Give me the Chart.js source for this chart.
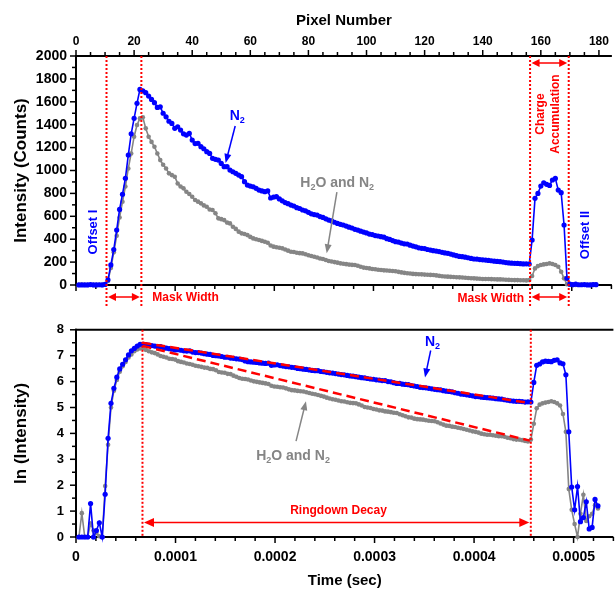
<!DOCTYPE html>
<html><head><meta charset="utf-8">
<script src="https://cdn.jsdelivr.net/npm/chart.js@4"></script>
<style>
html,body{margin:0;padding:0;background:#fff;}
#wrap{position:relative;width:616px;height:592px;overflow:hidden;}
canvas{position:absolute;left:0;}
#c1{top:0;} #c2{top:310px;}
</style></head><body>
<div id="wrap"><canvas id="c1" width="616" height="310"></canvas><canvas id="c2" width="616" height="282"></canvas></div>
<script>
// ---------------- data ----------------
// Top panel: intensity (counts) per pixel number 1..179
const N2_COUNTS = [
1,1,1,1,4,1,1,2,1,5,
45,175,310,480,660,792,932,1135,1320,1456,
1587,1708,1696,1680,1650,1621,1592,1551,1556,1500,
1469,1430,1411,1368,1382,1353,1320,1309,1324,1266,
1235,1237,1208,1190,1164,1149,1106,1098,1091,1062,
1033,1033,1004,989,975,960,946,902,873,864,
858,844,829,822,815,822,760,768,771,752,
735,720,710,698,690,675,668,655,648,635,
622,615,611,598,590,578,567,560,548,538,
530,524,515,505,498,486,480,470,462,455,
445,440,432,428,422,418,405,398,388,378,
375,366,360,358,348,340,333,325,320,318,
310,305,300,296,292,285,280,277,270,263,
256,250,247,243,238,232,227,226,222,220,
218,215,212,208,206,204,200,196,193,191,
189,188,186,184,185,183,393,757,800,864,
893,879,870,917,931,829,806,524,58,7,
3,7,2,2,4,1,1,4,3];
const H2O_N2_COUNTS = [
1,3,1,1,2,1,1,1,1,7,
35,148,285,430,590,727,860,1018,1149,1295,
1397,1455,1464,1368,1295,1250,1207,1149,1091,1050,
1018,975,960,946,887,860,844,815,795,771,
742,728,713,695,684,660,655,626,582,575,
567,545,538,509,490,466,451,445,436,420,
407,400,393,385,378,369,345,335,330,325,
320,310,300,291,288,282,278,276,268,260,
253,247,240,232,227,218,210,205,200,195,
189,186,182,178,176,175,168,160,152,148,
145,140,137,133,131,128,126,124,122,120,
115,110,106,102,100,97,95,94,93,91,
89,88,87,84,80,77,74,73,71,70,
68,67,65,63,61,59,58,56,54,53,
52,52,51,50,49,49,48,46,45,44,
43,43,42,41,40,43,79,145,165,175,
180,183,189,183,175,160,116,58,6,3,
2,1,2,5,2,2,2,3,3];
// Bottom panel: ln(intensity) per pixel number 1..179
const N2_LN = [
0,0,0,0,1.29,0,0.25,0.55,0,1.65,
3.81,5.16,5.74,6.17,6.49,6.67,6.84,7.03,7.19,7.28,
7.37,7.44,7.44,7.43,7.41,7.39,7.37,7.35,7.35,7.31,
7.29,7.27,7.25,7.22,7.23,7.21,7.19,7.18,7.19,7.14,
7.12,7.12,7.10,7.08,7.06,7.05,7.01,7.00,6.99,6.97,
6.94,6.94,6.91,6.90,6.88,6.87,6.85,6.80,6.77,6.76,
6.75,6.74,6.72,6.71,6.70,6.71,6.63,6.64,6.65,6.62,
6.60,6.58,6.57,6.55,6.54,6.51,6.50,6.48,6.47,6.45,
6.43,6.42,6.42,6.39,6.38,6.36,6.34,6.33,6.31,6.29,
6.27,6.26,6.24,6.22,6.21,6.19,6.17,6.15,6.14,6.12,
6.10,6.09,6.07,6.06,6.04,6.04,6.00,5.99,5.96,5.93,
5.93,5.90,5.89,5.88,5.85,5.83,5.81,5.78,5.77,5.76,
5.74,5.72,5.70,5.69,5.68,5.65,5.63,5.62,5.60,5.57,
5.55,5.52,5.51,5.49,5.47,5.45,5.42,5.42,5.40,5.39,
5.38,5.37,5.36,5.34,5.33,5.32,5.30,5.28,5.26,5.25,
5.24,5.24,5.23,5.21,5.22,5.21,5.97,6.63,6.68,6.76,
6.79,6.78,6.77,6.82,6.84,6.72,6.69,6.26,4.06,1.93,
1.05,1.95,0.59,0.75,1.36,0.31,0.37,1.45,1.20];
const H2O_N2_LN = [
0,0.92,0,0,0.52,0.25,0.15,0.03,0,1.97,
3.56,5.00,5.65,6.06,6.38,6.59,6.76,6.93,7.05,7.17,
7.24,7.28,7.29,7.22,7.17,7.13,7.10,7.05,6.99,6.96,
6.93,6.88,6.87,6.85,6.79,6.76,6.74,6.70,6.68,6.65,
6.61,6.59,6.57,6.54,6.53,6.49,6.48,6.44,6.37,6.35,
6.34,6.30,6.29,6.23,6.19,6.14,6.11,6.10,6.08,6.04,
6.01,5.99,5.97,5.95,5.93,5.91,5.84,5.81,5.80,5.78,
5.77,5.74,5.70,5.67,5.66,5.64,5.63,5.62,5.59,5.56,
5.53,5.51,5.48,5.45,5.42,5.38,5.35,5.32,5.30,5.27,
5.24,5.23,5.20,5.18,5.17,5.16,5.12,5.08,5.02,5.00,
4.98,4.94,4.92,4.89,4.88,4.85,4.84,4.82,4.80,4.79,
4.74,4.70,4.66,4.62,4.61,4.57,4.55,4.54,4.53,4.51,
4.49,4.48,4.47,4.43,4.38,4.34,4.30,4.29,4.26,4.25,
4.22,4.20,4.17,4.14,4.11,4.08,4.06,4.03,3.99,3.97,
3.95,3.95,3.93,3.91,3.89,3.89,3.87,3.83,3.81,3.78,
3.76,3.76,3.74,3.71,3.69,3.76,4.37,4.97,5.11,5.16,
5.19,5.21,5.24,5.21,5.16,5.08,4.75,4.06,1.85,1.05,
0.50,0,0.90,1.63,0.62,0.80,0.90,1.23,1.10];
// Red dashed straight-line fits of the ringdown decay (bottom panel)
const FIT_TIME_SEC = [0.0000668, 0.000456];
const FIT_N2_LN = [7.50, 5.17];
const FIT_H2O_N2_LN = [7.38, 3.72];
// Axis settings
const SEC_PER_PIXEL = 2.93e-6;
const PIXEL_AXIS = {min: 0, max: 184.46, step: 20, minor: 5};
const COUNT_AXIS = {min: 0, max: 2000, step: 200, minor: 100};
const TIME_AXIS = {min: 0, max: 0.00054, step: 0.0001, minor: 0.00002};
const LN_AXIS = {min: 0, max: 8, step: 1, minor: 0.5};
// Annotation anchors (in the charts' own units)
const MASK_I_PIXELS = [10.5, 22.5];
const MASK_II_PIXELS = [156.3, 169.6];
const RINGDOWN_SEC = [0.0000668, 0.000457];

// ---------------- build ----------------
const PIXEL_NUMBERS = N2_COUNTS.map((_, i) => i + 1);
const TIME_SEC = PIXEL_NUMBERS.map(p => p * SEC_PER_PIXEL);
const BLUE = '#0000FF', GRAY = '#858585', RED = '#FF0000';
const FONT = "'Liberation Sans', Arial, Helvetica, sans-serif";
const pts = (xs, ys) => xs.map((x, i) => ({x, y: ys[i]}));

function seriesStyle(color, r) {
  return {borderColor: color, backgroundColor: color, pointBackgroundColor: color,
    borderWidth: 1.6, pointRadius: r, pointBorderWidth: 0, pointHoverRadius: r,
    tension: 0, clip: false, fill: false};
}
function fitStyle() {
  return {borderColor: RED, borderWidth: 2.5, borderDash: [9, 5], pointRadius: 0,
    tension: 0, clip: false, fill: false};
}

function seg(ctx, x1, y1, x2, y2) { ctx.beginPath(); ctx.moveTo(x1, y1); ctx.lineTo(x2, y2); ctx.stroke(); }
function head(ctx, x1, y1, x2, y2, len, w) {
  const a = Math.atan2(y2 - y1, x2 - x1), c = Math.cos(a), s = Math.sin(a);
  ctx.beginPath(); ctx.moveTo(x2, y2);
  ctx.lineTo(x2 - len * c + w / 2 * s, y2 - len * s - w / 2 * c);
  ctx.lineTo(x2 - len * c - w / 2 * s, y2 - len * s + w / 2 * c);
  ctx.closePath(); ctx.fill();
}
function arrow(ctx, x1, y1, x2, y2, color, lw, len, w, both) {
  ctx.save(); ctx.strokeStyle = color; ctx.fillStyle = color; ctx.lineWidth = lw; ctx.setLineDash([]);
  const a = Math.atan2(y2 - y1, x2 - x1), c = Math.cos(a), s = Math.sin(a);
  seg(ctx, both ? x1 + c * len * 0.8 : x1, both ? y1 + s * len * 0.8 : y1, x2 - c * len * 0.8, y2 - s * len * 0.8);
  head(ctx, x1, y1, x2, y2, len, w);
  if (both) head(ctx, x2, y2, x1, y1, len, w);
  ctx.restore();
}
function rich(ctx, parts, x, y, color, size, sub) {
  ctx.save(); ctx.fillStyle = color; ctx.textAlign = 'left'; ctx.textBaseline = 'alphabetic';
  let cx = x;
  for (const [t, isSub] of parts) {
    ctx.font = 'bold ' + (isSub ? sub : size) + 'px ' + FONT;
    ctx.fillText(t, cx, isSub ? y + 3 : y);
    cx += ctx.measureText(t).width;
  }
  ctx.restore();
}
function vtext(ctx, text, x, y, color, size) {
  ctx.save(); ctx.translate(x, y); ctx.rotate(-Math.PI / 2);
  ctx.fillStyle = color; ctx.font = 'bold ' + size + 'px ' + FONT;
  ctx.textAlign = 'center'; ctx.textBaseline = 'middle'; ctx.fillText(text, 0, 0); ctx.restore();
}
function text(ctx, t, x, y, color, size, align) {
  ctx.save(); ctx.fillStyle = color; ctx.font = 'bold ' + size + 'px ' + FONT;
  ctx.textAlign = align; ctx.textBaseline = 'middle'; ctx.fillText(t, x, y); ctx.restore();
}
function dotted(ctx, x, y1, y2) {
  ctx.save(); ctx.strokeStyle = RED; ctx.lineWidth = 2; ctx.setLineDash([2, 2]);
  seg(ctx, x, y1, x, y2); ctx.restore();
}
function steps(ax, step) { const out = []; const n = Math.floor((ax.max - ax.min) / step + 1e-9); for (let i = 0; i <= n; i++) out.push(ax.min + i * step); return out; }
function isMajor(v, step) { const r = v / step; return Math.abs(r - Math.round(r)) < 1e-6; }

const tickFont = (s) => ({family: FONT, size: s, weight: 'bold'});
const plainNum = v => String(Math.round(v));

// ---------------- top chart ----------------
const topDecor = {
  id: 'topDecor',
  beforeDatasetsDraw(chart) {
    const {ctx, chartArea: a, scales: {x, y}} = chart;
    ctx.save(); ctx.strokeStyle = '#000'; ctx.lineWidth = 2;
    seg(ctx, a.left, a.top - 1, a.left, a.bottom + 1);
    seg(ctx, a.left - 1, a.top, a.right, a.top);
    seg(ctx, a.left - 1, a.bottom, a.right, a.bottom);
    ctx.lineWidth = 1.5;
    steps(COUNT_AXIS, COUNT_AXIS.minor).forEach(v => { const py = y.getPixelForValue(v); seg(ctx, a.left - (isMajor(v, COUNT_AXIS.step) ? 6 : 4), py, a.left, py); });
    steps({min: 0, max: PIXEL_AXIS.max}, PIXEL_AXIS.minor).forEach(v => { const px = x.getPixelForValue(v); seg(ctx, px, a.top - (isMajor(v, PIXEL_AXIS.step) ? 6 : 4), px, a.top); });
    steps(TIME_AXIS, TIME_AXIS.minor).forEach(t => { const px = x.getPixelForValue(t / SEC_PER_PIXEL); if (px <= a.right) seg(ctx, px, a.bottom, px, a.bottom + (isMajor(t, TIME_AXIS.step) ? 6 : 4)); });
    ctx.restore();
  },
  afterDatasetsDraw(chart) {
    const {ctx, chartArea: a, scales: {x, y}} = chart;
    const X = v => x.getPixelForValue(v), Y = v => y.getPixelForValue(v);
    const lowY = a.bottom + 21;
    [...MASK_I_PIXELS, ...MASK_II_PIXELS].forEach(p => dotted(ctx, X(p), a.top, lowY));
    const ay = a.bottom + 12;
    arrow(ctx, X(MASK_I_PIXELS[0]) + 1.5, ay, X(MASK_I_PIXELS[1]) - 1.5, ay, RED, 1.5, 8, 8, true);
    arrow(ctx, X(MASK_II_PIXELS[0]) + 1.5, ay, X(MASK_II_PIXELS[1]) - 1.5, ay, RED, 1.5, 8, 8, true);
    arrow(ctx, X(MASK_II_PIXELS[0]) + 1.5, a.top + 7, X(MASK_II_PIXELS[1]) - 1.5, a.top + 7, RED, 1.5, 8, 8, true);
    text(ctx, 'Mask Width', X(MASK_I_PIXELS[1]) + 11, ay + 1, RED, 12, 'left');
    text(ctx, 'Mask Width', X(MASK_II_PIXELS[0]) - 6, ay + 2, RED, 12, 'right');
    vtext(ctx, 'Charge', X(159.9), Y(1493), RED, 12);
    vtext(ctx, 'Accumulation', X(165.1), Y(1493), RED, 12);
    vtext(ctx, 'Offset I', X(5.9), Y(463), BLUE, 13);
    vtext(ctx, 'Offset II', X(175.3), Y(437), BLUE, 13);
    rich(ctx, [['N', false], ['2', true]], X(52.9), Y(1441), BLUE, 14, 9);
    arrow(ctx, X(54.8), Y(1389), X(51.5), Y(1066), BLUE, 1.5, 9, 7, false);
    rich(ctx, [['H', false], ['2', true], ['O and N', false], ['2', true]], X(77.2), Y(859), GRAY, 14, 9);
    arrow(ctx, X(89.8), Y(812), X(86.3), Y(277), GRAY, 1.5, 9, 7, false);
  }
};

new Chart(document.getElementById('c1'), {
  type: 'line',
  data: {datasets: [
    Object.assign({label: 'N2', data: pts(PIXEL_NUMBERS, N2_COUNTS)}, seriesStyle(BLUE, 2.6)),
    Object.assign({label: 'H2O and N2', data: pts(PIXEL_NUMBERS, H2O_N2_COUNTS)}, seriesStyle(GRAY, 2.3))
  ]},
  options: {
    responsive: false, animation: false, events: [],
    layout: {padding: {left: 0, right: 1, top: 0, bottom: 25}},
    plugins: {legend: {display: false}, tooltip: {enabled: false}},
    scales: {
      x: {type: 'linear', position: 'top', min: PIXEL_AXIS.min, max: PIXEL_AXIS.max,
        grid: {display: false, drawTicks: false}, border: {display: false},
        ticks: {stepSize: PIXEL_AXIS.step, includeBounds: false, autoSkip: false, maxRotation: 0, padding: 7, color: '#000', font: tickFont(12), callback: plainNum},
        title: {display: true, text: 'Pixel Number', color: '#000', font: tickFont(15), padding: {top: 12, bottom: 0}},
        afterFit(s) { s.height = 56; }},
      y: {type: 'linear', min: COUNT_AXIS.min, max: COUNT_AXIS.max,
        grid: {display: false, drawTicks: false}, border: {display: false},
        ticks: {stepSize: COUNT_AXIS.step, autoSkip: false, padding: 9, color: '#000', font: tickFont(14), callback: plainNum},
        title: {display: true, text: 'Intensity (Counts)', color: '#000', font: tickFont(17), padding: {top: 11, bottom: 0}},
        afterFit(s) { s.width = 76; }}
    }
  },
  plugins: [topDecor]
});

// ---------------- bottom chart ----------------
const bottomDecor = {
  id: 'bottomDecor',
  beforeDatasetsDraw(chart) {
    const {ctx, chartArea: a, scales: {x, y}} = chart;
    ctx.save(); ctx.strokeStyle = '#000'; ctx.lineWidth = 2;
    seg(ctx, a.left, a.top - 1, a.left, a.bottom + 1);
    seg(ctx, a.left - 1, a.bottom, a.right, a.bottom);
    seg(ctx, a.left - 1, a.top, a.right, a.top);
    ctx.lineWidth = 1.5;
    steps(LN_AXIS, LN_AXIS.minor).forEach(v => { const py = y.getPixelForValue(v); seg(ctx, a.left - (isMajor(v, LN_AXIS.step) ? 6 : 4), py, a.left, py); });
    steps(TIME_AXIS, TIME_AXIS.minor).forEach(t => { const px = x.getPixelForValue(t); seg(ctx, px, a.bottom, px, a.bottom + (isMajor(t, TIME_AXIS.step) ? 6 : 4)); });
    ctx.restore();
  },
  afterDatasetsDraw(chart) {
    const {ctx, chartArea: a, scales: {x, y}} = chart;
    const X = v => x.getPixelForValue(v), Y = v => y.getPixelForValue(v);
    RINGDOWN_SEC.forEach(t => dotted(ctx, X(t), a.top, a.bottom));
    arrow(ctx, X(RINGDOWN_SEC[0]) + 1.5, Y(0.56), X(RINGDOWN_SEC[1]) - 1.5, Y(0.56), RED, 1.5, 10, 9, true);
    text(ctx, 'Ringdown Decay', X(0.0002638), Y(1.03), RED, 12, 'center');
    rich(ctx, [['N', false], ['2', true]], X(0.0003507), Y(7.38), BLUE, 14, 9);
    arrow(ctx, X(0.0003564), Y(7.2), X(0.0003507), Y(6.16), BLUE, 1.5, 9, 7, false);
    rich(ctx, [['H', false], ['2', true], ['O and N', false], ['2', true]], X(0.000181), Y(2.99), GRAY, 14, 9);
    arrow(ctx, X(0.0002211), Y(3.70), X(0.0002311), Y(5.24), GRAY, 1.5, 9, 7, false);
  }
};

new Chart(document.getElementById('c2'), {
  type: 'line',
  data: {datasets: [
    Object.assign({label: 'N2 fit', data: pts(FIT_TIME_SEC, FIT_N2_LN)}, fitStyle()),
    Object.assign({label: 'H2O and N2 fit', data: pts(FIT_TIME_SEC, FIT_H2O_N2_LN)}, fitStyle()),
    Object.assign({label: 'N2', data: pts(TIME_SEC, N2_LN)}, seriesStyle(BLUE, 2.6)),
    Object.assign({label: 'H2O and N2', data: pts(TIME_SEC, H2O_N2_LN)}, seriesStyle(GRAY, 2.3))
  ]},
  options: {
    responsive: false, animation: false, events: [],
    layout: {padding: {left: 0, right: 1, top: 10, bottom: 0}},
    plugins: {legend: {display: false}, tooltip: {enabled: false}},
    scales: {
      x: {type: 'linear', position: 'bottom', min: TIME_AXIS.min, max: TIME_AXIS.max,
        grid: {display: false, drawTicks: false}, border: {display: false},
        ticks: {stepSize: TIME_AXIS.step, includeBounds: false, autoSkip: false, maxRotation: 0, padding: 12, color: '#000', font: tickFont(14),
          callback: v => Math.abs(v) < 1e-12 ? '0' : Number(v).toFixed(4)},
        title: {display: true, text: 'Time (sec)', color: '#000', font: tickFont(15), padding: {top: 0, bottom: 2}},
        afterFit(s) { s.height = 55; }},
      y: {type: 'linear', min: LN_AXIS.min, max: LN_AXIS.max,
        grid: {display: false, drawTicks: false}, border: {display: false},
        ticks: {stepSize: LN_AXIS.step, autoSkip: false, padding: 12, color: '#000', font: tickFont(13), callback: plainNum},
        title: {display: true, text: 'ln (Intensity)', color: '#000', font: tickFont(17), padding: {top: 11, bottom: 0}},
        afterFit(s) { s.width = 76; }}
    }
  },
  plugins: [bottomDecor]
});
</script></body></html>
